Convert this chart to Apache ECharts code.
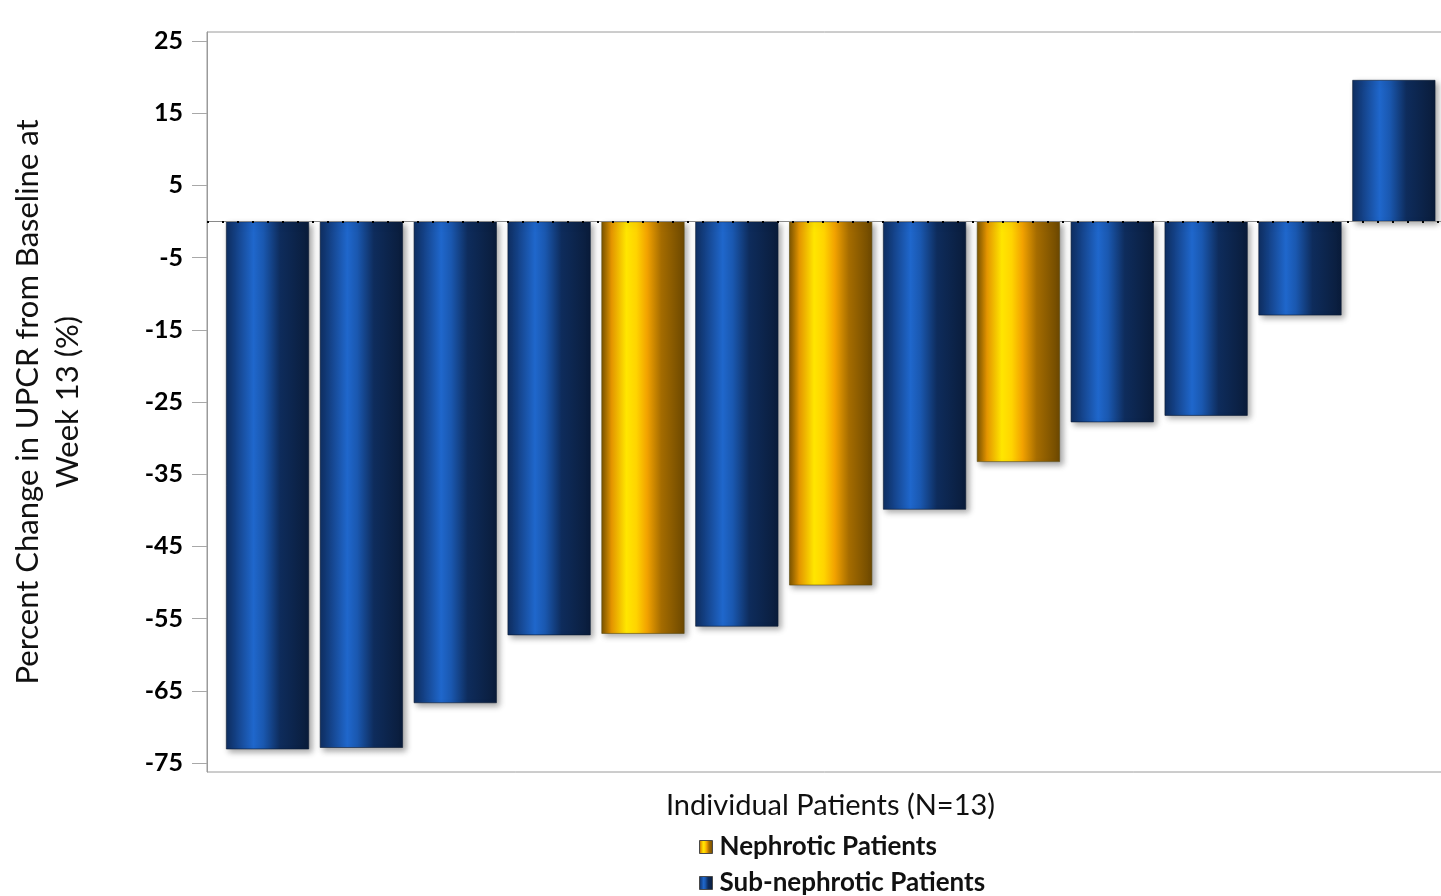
<!DOCTYPE html>
<html>
<head>
<meta charset="utf-8">
<title>UPCR change at Week 13</title>
<script src="https://cdn.jsdelivr.net/npm/echarts@6/dist/echarts.min.js"></script>
<style>
  html, body { margin: 0; padding: 0; background: #fff; }
  #chart { width: 1441px; height: 896px; }
</style>
</head>
<body>
<div id="chart"></div>
<script>
// Patients in waterfall order (most reduction first)
const patients = ['1', '2', '3', '4', '5', '6', '7', '8', '9', '10', '11', '12', '13'];
// Percent change in UPCR from baseline at week 13
const pctChange = [-73.1, -72.9, -66.7, -57.3, -57.1, -56.1, -50.4, -39.9, -33.3, -27.8, -26.9, -13.0, 19.6];
// N = nephrotic, S = sub-nephrotic
const groupCode = ['S', 'S', 'S', 'S', 'N', 'S', 'N', 'S', 'N', 'S', 'S', 'S', 'S'];
const groupNames = { N: 'Nephrotic Patients', S: 'Sub-nephrotic Patients' };
const yTicks = [-75, -65, -55, -45, -35, -25, -15, -5, 5, 15, 25];

const blueFill = new echarts.graphic.LinearGradient(0, 0, 1, 0, [
  { offset: 0.0, color: '#0f2f62' },
  { offset: 0.12, color: '#144186' },
  { offset: 0.33, color: '#1f67cc' },
  { offset: 0.45, color: '#1a58b0' },
  { offset: 0.65, color: '#0e2c5c' },
  { offset: 1.0, color: '#0a1c3a' }
]);
const yellowFill = new echarts.graphic.LinearGradient(0, 0, 1, 0, [
  { offset: 0.0, color: '#7a5400' },
  { offset: 0.12, color: '#e39400' },
  { offset: 0.3, color: '#ffe600' },
  { offset: 0.42, color: '#ffd400' },
  { offset: 0.55, color: '#f2a200' },
  { offset: 0.72, color: '#a56c00' },
  { offset: 1.0, color: '#6c4800' }
]);

function pointsFor(code) {
  return patients
    .map((p, i) => ({ name: p, value: [i, pctChange[i]], code: groupCode[i] }))
    .filter(d => d.code === code)
    .map(d => ({ name: d.name, value: d.value }));
}

const barShadow = {
  shadowBlur: 6,
  shadowOffsetX: 3,
  shadowOffsetY: 3,
  shadowColor: 'rgba(0,0,0,0.35)'
};

const chart = echarts.init(document.getElementById('chart'), null, { renderer: 'canvas' });
chart.setOption({
  animation: false,
  backgroundColor: '#ffffff',
  textStyle: { fontFamily: 'Lato, "Liberation Sans", sans-serif' },
  grid: {
    left: 207,
    right: -1,
    top: 32,
    bottom: 124,
    outerBoundsMode: 'none',
    containLabel: false,
    show: true,
    borderColor: '#9a9a9a',
    borderWidth: 1,
    backgroundColor: 'transparent'
  },
  legend: {
    orient: 'vertical',
    left: 699,
    top: 834,
    height: 120,
    padding: 0,
    itemWidth: 13,
    itemHeight: 13,
    itemGap: 10,
    icon: 'rect',
    data: [groupNames.N, groupNames.S],
    itemStyle: { borderColor: '#4a4a4a', borderWidth: 1 },
    textStyle: { fontSize: 26, fontWeight: 'bold', color: '#111', fontFamily: 'Lato, sans-serif', padding: [0, 0, 0, 2] }
  },
  xAxis: {
    type: 'value',
    min: -0.645,
    max: 12.513,
    name: 'Individual Patients (N=13)',
    nameLocation: 'middle',
    nameGap: 19,
    nameTextStyle: { fontSize: 29, color: '#111', fontFamily: 'Lato, sans-serif', padding: [0, 0, 0, 12] },
    axisLine: { show: false },
    axisTick: { show: false },
    axisLabel: { show: false },
    splitLine: { show: false }
  },
  yAxis: {
    type: 'value',
    min: -76.25,
    max: 26.25,
    name: 'Percent Change in UPCR from Baseline at\nWeek 13 (%)',
    nameLocation: 'middle',
    nameGap: 119,
    nameTextStyle: { fontSize: 31, color: '#111', lineHeight: 40, fontFamily: 'Lato, sans-serif' },
    axisLine: { show: true, onZero: false, lineStyle: { color: '#9a9a9a', width: 1 } },
    axisTick: {
      show: true,
      length: 15,
      customValues: yTicks,
      lineStyle: { color: '#a8a8a8', width: 1 }
    },
    axisLabel: {
      customValues: yTicks,
      margin: 24,
      fontSize: 25,
      fontWeight: 'bold',
      color: '#000',
      fontFamily: 'Lato, sans-serif'
    },
    splitLine: { show: false }
  },
  series: [
    {
      name: groupNames.N,
      type: 'bar',
      barWidth: 83,
      barGap: '-100%',
      itemStyle: Object.assign({ color: yellowFill, borderColor: '#5a4a10', borderWidth: 0.6 }, barShadow),
      data: pointsFor('N'),
      markLine: {
        silent: true,
        symbol: 'none',
        label: { show: false },
        lineStyle: { color: '#8a8a8a', type: 'solid', width: 1 },
        data: [{ yAxis: 0 }]
      }
    },
    {
      name: groupNames.S,
      type: 'bar',
      barWidth: 83,
      barGap: '-100%',
      itemStyle: Object.assign({ color: blueFill, borderColor: '#0a1a33', borderWidth: 0.6 }, barShadow),
      data: pointsFor('S'),
      markLine: {
        silent: true,
        symbol: 'none',
        label: { show: false },
        lineStyle: { color: '#000', type: [2, 13], width: 2 },
        data: [{ yAxis: 0 }]
      }
    }
  ]
});
</script>
</body>
</html>
